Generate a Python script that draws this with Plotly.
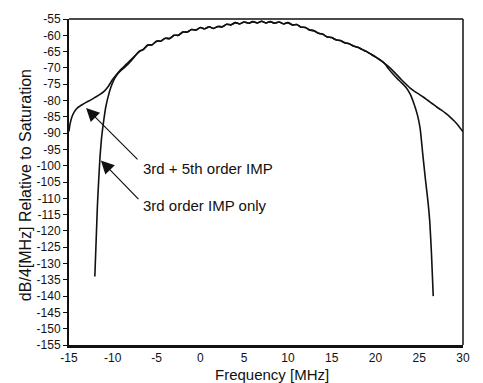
import plotly.graph_objects as go

# ---------------- data ----------------
# left branch of the "3rd + 5th order IMP" curve
f_left_35 = [-15, -14.9, -14.7, -14.4, -14.0, -13.5, -13.0, -12.5, -12.0, -11.5,
             -11.0, -10.5, -10.0, -9.5, -9.0, -8.5, -8.0, -7.5, -7.0]
p_left_35 = [-89.5, -87.5, -85.3, -83.5, -82.2, -81.3, -80.5, -79.8, -79.0, -78.2,
             -77.2, -75.6, -73.5, -71.8, -70.3, -69.0, -67.7, -66.4, -65.1]

# left branch of the "3rd order IMP only" curve
f_left_3 = [-12.05, -11.9, -11.75, -11.6, -11.45, -11.3, -11.15, -11.0, -10.8, -10.5,
            -10.2, -9.9, -9.5, -9.0, -8.5, -8.0, -7.5, -7.0]
p_left_3 = [-134, -123, -112, -104, -97, -92, -88.5, -85.5, -82, -78.5,
            -75.8, -73.8, -72.0, -70.6, -69.5, -68.1, -66.5, -64.9]

# shared (rippled) middle part of both curves
f_mid = [-6.5, -6.0, -5.5, -5.0, -4.5, -4.0, -3.5, -3.0, -2.5, -2.0, -1.5, -1.0, -0.5,
         0.0, 0.5, 1.0, 1.5, 2.0, 2.5, 3.0, 3.5, 4.0, 4.5, 5.0, 5.5, 6.0, 6.5, 7.0,
         7.5, 8.0, 8.5, 9.0, 9.5, 10.0, 10.5, 11.0, 11.5, 12.0, 12.5, 13.0, 13.5,
         14.0, 14.5, 15.0, 15.5, 16.0, 16.5, 17.0, 17.5, 18.0, 18.5, 19.0, 19.5,
         20.0, 20.5, 21.0]
p_mid = [-64.3, -63.0, -62.9, -61.8, -61.8, -60.9, -61.0, -60.0, -60.0, -59.0, -59.0,
         -58.2, -58.4, -57.6, -58.0, -57.4, -57.9, -57.3, -57.4, -56.6, -56.8, -56.1,
         -56.5, -55.9, -56.3, -55.8, -56.2, -55.7, -56.2, -55.8, -56.3, -55.9, -56.5,
         -56.1, -56.8, -56.7, -57.5, -57.6, -58.4, -58.6, -59.4, -59.7, -60.5, -60.7,
         -61.4, -61.6, -62.3, -62.6, -63.3, -63.7, -64.4, -65.0, -65.8, -66.6, -67.5,
         -68.5]

# right branch of the "3rd + 5th order IMP" curve
f_right_35 = [21.5, 22, 22.5, 23, 23.5, 24, 24.5, 25, 25.5, 26, 26.5, 27, 27.5, 28,
              28.5, 29, 29.5, 30]
p_right_35 = [-69.6, -70.9, -72.3, -73.7, -75.0, -76.3, -77.3, -78.1, -79.0, -80.0,
              -81.0, -82.0, -82.9, -83.9, -85.0, -86.3, -87.8, -89.6]

# right branch of the "3rd order IMP only" curve
f_right_3 = [21.5, 22, 22.5, 23, 23.5, 24, 24.4, 24.8, 25.1, 25.4, 25.7, 26.0, 26.2,
             26.4, 26.6]
p_right_3 = [-70.3, -71.9, -73.3, -74.6, -76.0, -78.2, -81.0, -84.5, -88.5, -96.3,
             -104, -111, -117, -127, -140]

x_ticks = [-15, -10, -5, 0, 5, 10, 15, 20, 25, 30]
x_labels = ["-15", "-10", "-5", "0", "5", "10", "15", "20", "25", "30"]
y_ticks = [-55, -60, -65, -70, -75, -80, -85, -90, -95, -100, -105, -110, -115, -120,
           -125, -130, -135, -140, -145, -150, -155]
y_labels = ["-55", "-60", "-65", "-70", "-75", "-80", "-85", "-90", "-95", "-100",
            "-105", "-110", "-115", "-120", "-125", "-130", "-135", "-140", "-145",
            "-150", "-155"]

label_35 = "3rd + 5th order IMP"
label_3 = "3rd order IMP only"

# ---------------- figure ----------------
FONT = "Liberation Sans, Arial, Helvetica, sans-serif"
ink = "#111111"

fig = go.Figure()
fig.add_trace(go.Scatter(
    x=f_left_35 + f_mid + f_right_35, y=p_left_35 + p_mid + p_right_35,
    mode="lines", line=dict(color=ink, width=1.6, shape="spline", smoothing=0.5),
    name=label_35, hoverinfo="skip"))
fig.add_trace(go.Scatter(
    x=f_left_3 + f_mid + f_right_3, y=p_left_3 + p_mid + p_right_3,
    mode="lines", line=dict(color=ink, width=1.6, shape="spline", smoothing=0.5),
    name=label_3, hoverinfo="skip"))

fig.update_layout(
    width=483, height=383,
    margin=dict(l=69, r=20, t=12, b=38),
    paper_bgcolor="white", plot_bgcolor="white",
    showlegend=False,
    font=dict(family=FONT, color=ink, size=12),
)
fig.update_xaxes(
    range=[-15, 30], tickvals=x_ticks, ticktext=x_labels,
    showgrid=False, zeroline=False, ticks="",
    showline=True, linecolor=ink, linewidth=3,
    tickfont=dict(family=FONT, size=12, color=ink),
)
fig.update_yaxes(
    range=[-155, -55], tickvals=y_ticks, ticktext=y_labels,
    showgrid=False, zeroline=False, ticks="outside", ticklen=4, tickwidth=1,
    tickcolor=ink, showline=True, linecolor=ink, linewidth=2,
    tickfont=dict(family=FONT, size=12, color=ink),
)

# top and right frame lines (thinner than the axes)
fig.add_shape(type="line", xref="paper", yref="paper", x0=0, x1=1, y0=1, y1=1,
              line=dict(color=ink, width=1.5))
fig.add_shape(type="line", xref="paper", yref="paper", x0=1, x1=1, y0=0, y1=1,
              line=dict(color=ink, width=1.5))

# axis titles
fig.add_annotation(text="dB/4[MHz] Relative to Saturation", xref="paper", yref="paper",
                   x=-0.112, y=0.49, textangle=-90, showarrow=False,
                   xanchor="center", yanchor="middle",
                   font=dict(family=FONT, size=16, color=ink))
fig.add_annotation(text="Frequency [MHz]", xref="paper", yref="paper",
                   x=0.516, y=-0.09, showarrow=False, xanchor="center",
                   yanchor="middle",
                   font=dict(family=FONT, size=15, color=ink))

# arrows and labels
fig.add_annotation(x=-13.05, y=-82.3, ax=-7.0, ay=-98.5, xref="x", yref="y",
                   axref="x", ayref="y", text="", showarrow=True, arrowhead=2,
                   arrowsize=2.2, arrowwidth=1.2, arrowcolor=ink)
fig.add_annotation(x=-11.36, y=-98.4, ax=-6.9, ay=-110.7, xref="x", yref="y",
                   axref="x", ayref="y", text="", showarrow=True, arrowhead=2,
                   arrowsize=2.2, arrowwidth=1.2, arrowcolor=ink)
fig.add_annotation(x=-6.8, y=-100.8, xref="x", yref="y", text=label_35,
                   showarrow=False, xanchor="left", yanchor="middle",
                   font=dict(family=FONT, size=15, color=ink))
fig.add_annotation(x=-6.8, y=-112.2, xref="x", yref="y", text=label_3,
                   showarrow=False, xanchor="left", yanchor="middle",
                   font=dict(family=FONT, size=15, color=ink))

fig.write_html("out.html")
